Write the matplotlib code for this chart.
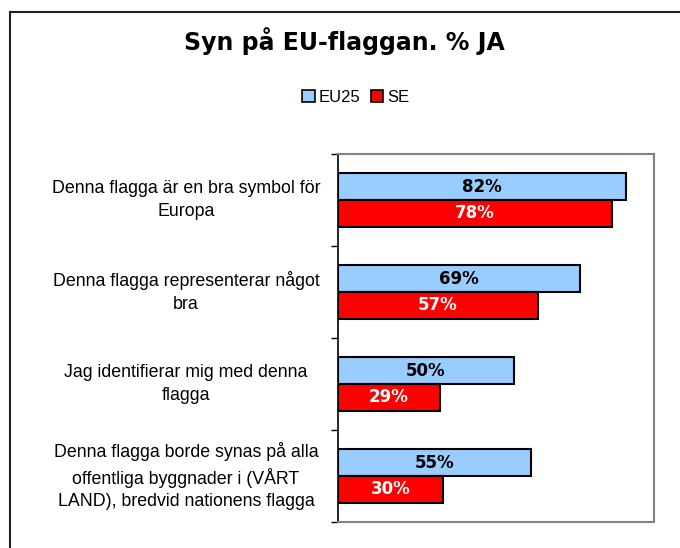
import matplotlib
matplotlib.use("Agg")
import matplotlib.pyplot as plt
import matplotlib.transforms as mtransforms
from matplotlib.patches import Rectangle
from matplotlib.lines import Line2D
import numpy as np

categories = [
    "Denna flagga är en bra symbol för\nEuropa",
    "Denna flagga representerar något\nbra",
    "Jag identifierar mig med denna\nflagga",
    "Denna flagga borde synas på alla\noffentliga byggnader i (VÅRT\nLAND), bredvid nationens flagga",
]
eu25 = [82, 69, 50, 55]
se = [78, 57, 29, 30]
series_names = ["EU25", "SE"]
title = "Syn på EU-flaggan. % JA"

W, H = 680, 548
fig = plt.figure(figsize=(W / 100, H / 100), dpi=100)
fig.patch.set_facecolor("white")

ax = fig.add_axes([338 / W, 1 - 522 / H, (654 - 338) / W, (522 - 154) / H])

n = len(categories)
ypos = np.arange(n)
bh = 0.29
blue = "#99CCFF"
red = "#FF0000"

b1 = ax.barh(ypos - bh / 2, eu25, height=bh, color=blue, edgecolor="black", linewidth=1.5)
b2 = ax.barh(ypos + bh / 2, se, height=bh, color=red, edgecolor="black", linewidth=1.5)

for rect, v in zip(b1, eu25):
    ax.text(rect.get_x() + rect.get_width() / 2, rect.get_y() + rect.get_height() / 2,
            f"{v}%", ha="center", va="center", fontsize=12, fontweight="bold",
            color="black", family="DejaVu Sans")
for rect, v in zip(b2, se):
    ax.text(rect.get_x() + rect.get_width() / 2, rect.get_y() + rect.get_height() / 2,
            f"{v}%", ha="center", va="center", fontsize=12, fontweight="bold",
            color="white", family="DejaVu Sans")

ax.set_xlim(0, 90)
ax.set_ylim(n - 0.5, -0.5)
ax.set_xticks([])
ax.set_yticks(np.arange(n + 1) - 0.5)
ax.set_yticklabels([])
ax.tick_params(axis="y", direction="out", length=5, width=1, color="black")
for s in ["top", "right", "bottom"]:
    ax.spines[s].set_color("#808080")
    ax.spines[s].set_linewidth(1.5)
ax.spines["left"].set_color("black")
ax.spines["left"].set_linewidth(1.2)

trans = mtransforms.blended_transform_factory(fig.transFigure, ax.transData)
for i, lab in enumerate(categories):
    ax.text(186 / W, i, lab, transform=trans, ha="center", va="center",
            multialignment="center", fontsize=12.8, family="Liberation Sans",
            linespacing=1.4, color="black")

fig.text(344 / W, 1 - 41 / H, title, ha="center", va="center", fontsize=17,
         fontweight="bold", family="DejaVu Sans")

# legend
handles = [Rectangle((0, 0), 1, 1, facecolor=blue, edgecolor="black", linewidth=1.2),
           Rectangle((0, 0), 1, 1, facecolor=red, edgecolor="black", linewidth=1.2)]
leg = fig.legend(handles, series_names, loc="center", bbox_to_anchor=(356 / W, 1 - 97 / H),
                 ncol=2, frameon=False, handlelength=0.75, handleheight=0.75,
                 handletextpad=0.25, columnspacing=0.6, borderpad=0,
                 prop={"family": "Liberation Sans", "size": 12})

# outer border (top and left)
fig.add_artist(Line2D([10 / W, 1], [1 - 12 / H, 1 - 12 / H], transform=fig.transFigure,
                      color="#222222", linewidth=1.5))
fig.add_artist(Line2D([10 / W, 10 / W], [1 - 12 / H, 0], transform=fig.transFigure,
                      color="#222222", linewidth=1.5))

fig.savefig("out.png", dpi=100)
